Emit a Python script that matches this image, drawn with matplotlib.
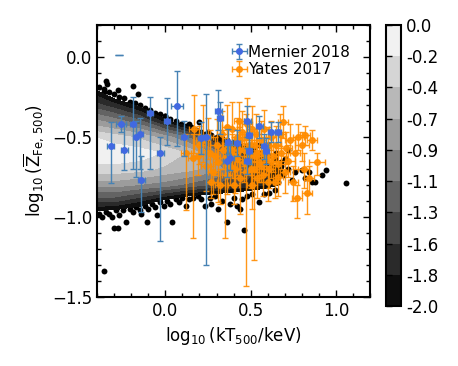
#!/usr/bin/env python3

import numpy as np
import matplotlib
matplotlib.use("Agg")
import matplotlib.pyplot as plt

################################################################################
# Data
################################################################################

# log10 density of the simulated clusters on a coarse grid
grid_x = [-0.45, -0.3, -0.15, 0.0, 0.15, 0.3, 0.45, 0.6, 0.75, 0.9]
grid_y = [-1.1, -1.0, -0.9, -0.8, -0.7, -0.6, -0.5, -0.4, -0.3, -0.2, -0.1]
# one list per grid_x column, bottom to top
dens_cols = [
    [-3, -2.3, -1.5, -0.8, -0.3, -0.05, -0.2, -0.8, -1.4, -1.9, -3],
    [-3, -2.4, -1.5, -0.8, -0.3, -0.05, -0.35, -1.0, -1.7, -2.5, -3],
    [-3, -2.5, -1.75, -0.9, -0.35, -0.1, -0.5, -1.3, -2.1, -3, -3],
    [-3, -3, -2.1, -1.0, -0.5, -0.25, -0.8, -1.9, -3, -3, -3],
    [-3, -3, -2.4, -1.2, -0.6, -0.5, -1.2, -2.6, -3, -3, -3],
    [-3, -3, -2.5, -1.4, -0.8, -1.0, -2.0, -3, -3, -3, -3],
    [-3, -3, -2.6, -1.6, -1.2, -1.6, -2.5, -3, -3, -3, -3],
    [-3, -3, -2.8, -1.8, -1.7, -2.3, -3, -3, -3, -3, -3],
    [-3, -3, -3, -2.3, -2.2, -3, -3, -3, -3, -3, -3],
    [-3, -3, -3, -3, -3, -3, -3, -3, -3, -3, -3],
]

# simulated clusters outside the contours (black dots)
sim_x = [-0.39, -0.36, -0.33, -0.30, -0.27, -0.24, -0.21, -0.18, -0.15, -0.12,
         -0.09, -0.06, -0.03, 0.0, 0.03, 0.06, 0.09, 0.12, 0.15, 0.18, 0.21,
         0.24, 0.27, 0.30,
         -0.35, -0.34, -0.36, -0.28, -0.19, -0.16, -0.13, 0.0, 0.05, -0.03,
         0.14, 0.20, 0.25,
         -0.39, -0.37, -0.35, -0.33, -0.31, -0.29, -0.27, -0.25, -0.23, -0.21,
         -0.19, -0.17, -0.15, -0.14, -0.12, -0.10, -0.08, -0.06, -0.05, -0.03,
         -0.01, 0.01, 0.03, 0.04, 0.06, 0.08, 0.10, 0.12, 0.14, 0.16, 0.19,
         0.21, 0.23, 0.26, 0.27, 0.29, 0.31, 0.33, 0.36, 0.38, 0.40, 0.42,
         0.44, 0.45, 0.46, 0.48, 0.51, 0.55, 0.58, 0.61, 0.64,
         -0.36, -0.30, -0.28, -0.11,
         0.66, 0.69, 0.72, 0.74, 0.76, 0.80, 0.82, 0.84, 0.86, 0.88, 0.92,
         0.94, 1.06, 0.70, 0.65, 0.60, 0.55, 0.50, 0.72, 0.68,
         0.33, 0.36, 0.40, 0.44, 0.48, 0.52, 0.56, 0.60, 0.64, 0.68]
sim_y = [-0.19, -0.20, -0.22, -0.23, -0.25, -0.26, -0.28, -0.29, -0.30, -0.32,
         -0.33, -0.35, -0.36, -0.37, -0.39, -0.40, -0.42, -0.43, -0.44, -0.46,
         -0.47, -0.48, -0.49, -0.50,
         -0.15, -0.17, -0.22, -0.21, -0.18, -0.23, -0.33, -0.37, -0.45, -0.40,
         -0.42, -0.41, -0.47,
         -0.98, -1.00, -0.97, -0.98, -1.00, -0.96, -0.99, -0.96, -1.03, -0.95,
         -0.97, -0.94, -0.96, -0.98, -0.93, -0.95, -0.92, -0.94, -0.99, -0.91,
         -0.93, -0.90, -0.92, -1.03, -0.89, -0.91, -0.88, -0.93, -0.89, -0.88,
         -0.87, -0.89, -0.93, -0.88, -0.92, -0.87, -0.95, -0.90, -1.03, -0.92,
         -0.88, -0.93, -0.95, -0.89, -1.08, -0.87, -0.86, -0.91, -0.86, -0.85,
         -0.83,
         -1.34, -1.07, -1.07, -1.03,
         -0.78, -0.74, -0.70, -0.77, -0.72, -0.71, -0.76, -0.72, -0.78, -0.78,
         -0.74, -0.71, -0.79, -0.64, -0.60, -0.55, -0.55, -0.55, -0.58, -0.68,
         -0.51, -0.52, -0.53, -0.55, -0.56, -0.58, -0.60, -0.62, -0.64, -0.66]

# Mernier 2018
mer_x = [-0.32, -0.26, -0.24, -0.19, -0.17, -0.15, -0.14, -0.09, -0.03, 0.01,
         0.07, 0.11, 0.21, 0.24, 0.31, 0.32, 0.36, 0.37, 0.38, 0.42, 0.48,
         0.48, 0.49, 0.49, 0.55, 0.58, 0.59, 0.62, 0.66]
mer_y = [-0.56, -0.42, -0.58, -0.42, -0.50, -0.48, -0.77, -0.35, -0.60, -0.40,
         -0.31, -0.50, -0.51, -0.50, -0.34, -0.38, -0.65, -0.53, -0.63, -0.54,
         -0.40, -0.65, -0.49, -0.59, -0.43, -0.56, -0.59, -0.47, -0.47]
mer_xerr = [0.02, 0.03, 0.02, 0.02, 0.02, 0.02, 0.02, 0.02, 0.02, 0.02,
            0.035, 0.02, 0.02, 0.02, 0.02, 0.02, 0.02, 0.02, 0.02, 0.02, 0.02,
            0.02, 0.02, 0.02, 0.02, 0.02, 0.02, 0.02, 0.02]
mer_ylo = [0.23, 0.05, 0.13, 0.28, 0.25, 0.22, 0.20, 0.35, 0.55, 0.15,
           0.25, 0.12, 0.10, 0.80, 0.12, 0.10, 0.10, 0.08, 0.08, 0.08, 0.10,
           0.08, 0.08, 0.08, 0.08, 0.08, 0.08, 0.06, 0.06]
mer_yhi = [0.15, 0.05, 0.16, 0.17, 0.10, 0.10, 0.15, 0.10, 0.10, 0.14,
           0.22, 0.10, 0.10, 0.27, 0.13, 0.10, 0.10, 0.08, 0.08, 0.08, 0.09,
           0.08, 0.08, 0.08, 0.06, 0.08, 0.08, 0.06, 0.06]
# lone cap at the top left
mer_cap_x = [-0.27]
mer_cap_y = [0.01]

# Yates 2017
yat_x = [0.12, 0.16, 0.17, 0.20, 0.22, 0.24, 0.26, 0.28, 0.30, 0.31, 0.33,
         0.35, 0.36, 0.37, 0.39, 0.40, 0.41, 0.42, 0.43, 0.44, 0.45, 0.46,
         0.47, 0.48, 0.49, 0.50, 0.51, 0.52, 0.53, 0.54, 0.55, 0.56, 0.57,
         0.58, 0.59, 0.60, 0.61, 0.62, 0.63, 0.64, 0.65, 0.66, 0.67, 0.68,
         0.69, 0.70, 0.71, 0.72, 0.73, 0.75, 0.76, 0.77, 0.78, 0.80, 0.81,
         0.82, 0.83, 0.84, 0.86, 0.89,
         0.27, 0.29, 0.32, 0.34, 0.38, 0.40, 0.42, 0.44, 0.46, 0.47, 0.50,
         0.51, 0.53, 0.54, 0.56, 0.58, 0.60, 0.62, 0.43, 0.36, 0.25, 0.19,
         0.39, 0.52, 0.66]
yat_y = [-0.60, -0.63, -0.45, -0.55, -0.52, -0.68, -0.60, -0.72, -0.55, -0.66,
         -0.48, -0.63, -0.74, -0.55, -0.45, -0.62, -0.70, -0.50, -0.58, -0.76,
         -0.47, -0.66, -0.72, -0.42, -0.55, -0.62, -0.80, -0.70, -0.48, -0.60,
         -0.66, -0.52, -0.74, -0.45, -0.63, -0.56, -0.70, -0.50, -0.62, -0.78,
         -0.55, -0.67, -0.48, -0.60, -0.41, -0.72, -0.57, -0.65, -0.52, -0.78,
         -0.60, -0.88, -0.50, -0.55, -0.70, -0.49, -0.85, -0.76, -0.52, -0.66,
         -0.78, -0.62, -0.80, -0.58, -0.68, -0.80, -0.64, -0.52, -0.58, -0.50,
         -0.70, -0.45, -0.62, -0.76, -0.68, -0.60, -0.78, -0.66, -0.40, -0.44,
         -0.50, -0.62, -0.58, -0.55, -0.75]
yat_xerr = [0.03, 0.03, 0.03, 0.03, 0.04, 0.03, 0.03, 0.03, 0.04, 0.03, 0.03,
            0.03, 0.03, 0.04, 0.03, 0.03, 0.03, 0.03, 0.04, 0.03, 0.03, 0.03,
            0.03, 0.03, 0.04, 0.03, 0.03, 0.03, 0.03, 0.03, 0.04, 0.03, 0.03,
            0.03, 0.03, 0.04, 0.03, 0.03, 0.03, 0.03, 0.03, 0.04, 0.03, 0.03,
            0.03, 0.03, 0.03, 0.04, 0.03, 0.03, 0.03, 0.03, 0.03, 0.04, 0.03,
            0.03, 0.03, 0.03, 0.03, 0.045,
            0.03, 0.03, 0.03, 0.03, 0.03, 0.03, 0.03, 0.03, 0.03, 0.03, 0.03,
            0.03, 0.03, 0.03, 0.03, 0.03, 0.03, 0.03, 0.03, 0.03, 0.03, 0.03,
            0.03, 0.03, 0.03]
yat_ylo = [0.36, 0.50, 0.15, 0.12, 0.14, 0.16, 0.12, 0.14, 0.12, 0.25, 0.10,
           0.50, 0.12, 0.10, 0.12, 0.14, 0.15, 0.10, 0.12, 0.22, 0.10, 0.12,
           0.71, 0.10, 0.10, 0.12, 0.15, 0.57, 0.10, 0.12, 0.12, 0.10, 0.13,
           0.10, 0.10, 0.10, 0.12, 0.08, 0.10, 0.10, 0.10, 0.12, 0.08, 0.10,
           0.10, 0.13, 0.10, 0.10, 0.08, 0.12, 0.10, 0.13, 0.08, 0.10, 0.12,
           0.06, 0.13, 0.10, 0.06, 0.08,
           0.10, 0.12, 0.12, 0.12, 0.12, 0.12, 0.10, 0.10, 0.10, 0.10, 0.12,
           0.10, 0.10, 0.12, 0.10, 0.10, 0.12, 0.10, 0.10, 0.10, 0.14, 0.12,
           0.10, 0.10, 0.12]
yat_yhi = [0.12, 0.15, 0.21, 0.12, 0.22, 0.10, 0.14, 0.10, 0.16, 0.10, 0.14,
           0.12, 0.10, 0.12, 0.17, 0.12, 0.10, 0.12, 0.14, 0.10, 0.13, 0.12,
           0.10, 0.16, 0.12, 0.10, 0.10, 0.10, 0.12, 0.12, 0.10, 0.12, 0.10,
           0.12, 0.10, 0.12, 0.10, 0.10, 0.12, 0.10, 0.12, 0.10, 0.12, 0.10,
           0.10, 0.10, 0.10, 0.10, 0.10, 0.10, 0.10, 0.08, 0.08, 0.08, 0.10,
           0.06, 0.08, 0.08, 0.06, 0.06,
           0.10, 0.12, 0.10, 0.12, 0.10, 0.10, 0.12, 0.12, 0.10, 0.14, 0.10,
           0.14, 0.10, 0.10, 0.10, 0.10, 0.10, 0.10, 0.12, 0.14, 0.12, 0.14,
           0.10, 0.10, 0.10]

# colour levels of the density map
cbar_levels = np.linspace(-2.0, 0.0, 10)

################################################################################
# Plot
################################################################################

plt.rcParams['mathtext.default'] = 'regular'
plt.rcParams['font.size'] = 12

fig = plt.figure(figsize=(4.58, 3.66), dpi=100)
ax = fig.add_axes([0.212, 0.189, 0.596, 0.743])
cax = fig.add_axes([0.843, 0.164, 0.033, 0.768])

# black dots first, contours painted over them
ax.scatter(sim_x, sim_y, s=18, c='k', linewidths=0, zorder=1)

Z = np.array(dens_cols).T
cf = ax.contourf(grid_x, grid_y, Z, levels=cbar_levels, cmap='gray', zorder=2)

ax.errorbar(yat_x, yat_y, xerr=yat_xerr, yerr=[yat_ylo, yat_yhi], fmt='o',
            ms=4, color='darkorange', ecolor='darkorange', elinewidth=1,
            capsize=2, alpha=0.9, zorder=3, label='Yates 2017')
ax.errorbar(mer_x, mer_y, xerr=mer_xerr, yerr=[mer_ylo, mer_yhi], fmt='o',
            ms=4, color='royalblue', ecolor='steelblue', elinewidth=1,
            capsize=2, zorder=4, label='Mernier 2018')
ax.errorbar(mer_cap_x, mer_cap_y, yerr=[[0], [0]], fmt='none',
            ecolor='steelblue', elinewidth=1, capsize=3, zorder=4)

handles, labels = ax.get_legend_handles_labels()
ax.legend(handles[::-1], labels[::-1], loc='upper right', frameon=False,
          fontsize=11, handlelength=0.6, handletextpad=0.3,
          borderaxespad=0.9, labelspacing=0.15)

ax.set_xlim(-0.4, 1.2)
ax.set_ylim(-1.5, 0.2)
ax.set_xticks([0.0, 0.5, 1.0])
ax.set_yticks([0.0, -0.5, -1.0, -1.5])
ax.set_xticks(np.arange(-0.4, 1.21, 0.1), minor=True)
ax.set_yticks(np.arange(-1.5, 0.21, 0.1), minor=True)
ax.tick_params(which='both', direction='in', top=True, right=True, width=1)
ax.tick_params(which='major', length=5)
ax.tick_params(which='minor', length=3)
for sp in ax.spines.values():
    sp.set_linewidth(1.5)

ax.set_xlabel(r'$\log_{10}(kT_{500}/keV)$')
ax.set_ylabel(r'$\log_{10}(\overline{Z}_{Fe,\,500})$')

cb = fig.colorbar(cf, cax=cax, ticks=cbar_levels)
cb.set_ticklabels([f'{v:.1f}' for v in cbar_levels])
cb.outline.set_linewidth(1.5)
cax.tick_params(direction='in', left=True, right=False, labelleft=False,
                labelright=True, length=4, width=1)

fig.savefig('out.png', dpi=100)
